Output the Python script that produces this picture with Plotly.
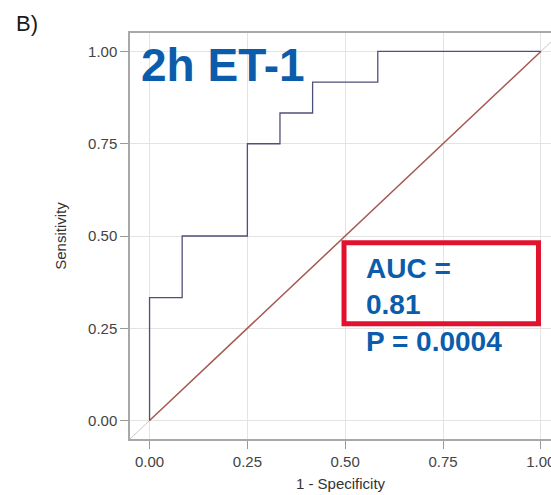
import plotly.graph_objects as go

# ROC step curve (1 - specificity, sensitivity)
fpr = [0.0, 0.0, 0.0833, 0.0833, 0.25, 0.25, 0.3333, 0.3333, 0.4167, 0.4167, 0.5833, 0.5833, 1.0]
tpr = [0.0, 0.3333, 0.3333, 0.5, 0.5, 0.75, 0.75, 0.8333, 0.8333, 0.9167, 0.9167, 1.0, 1.0]
ref_x = [0.0, 1.0]
ref_y = [0.0, 1.0]
full_diag = [-0.05, 1.05]
tick_vals = [0.0, 0.25, 0.5, 0.75, 1.0]
tick_text = ["0.00", "0.25", "0.50", "0.75", "1.00"]
title_text = "2h ET-1"
auc_text = "AUC =<br>0.81<br>P = 0.0004"
panel_label = "B)"

fig = go.Figure()
fig.add_trace(go.Scatter(x=full_diag, y=full_diag, mode="lines",
                         line=dict(color="#c8c8c8", width=1), hoverinfo="skip"))
fig.add_trace(go.Scatter(x=ref_x, y=ref_y, mode="lines",
                         line=dict(color="#a65a52", width=1.5), hoverinfo="skip"))
fig.add_trace(go.Scatter(x=fpr, y=tpr, mode="lines",
                         line=dict(color="#4f5078", width=1.3), hoverinfo="skip"))

font_family = "Liberation Sans, Arial, sans-serif"
axis_common = dict(
    tickvals=tick_vals, ticktext=tick_text, ticks="outside", ticklen=8,
    tickcolor="#9a9a9a", tickwidth=1.2, showline=True, linecolor="#a8a8a8",
    linewidth=1.5, showgrid=True, gridcolor="#e3e3e3", gridwidth=1,
    zeroline=False, tickfont=dict(family=font_family, size=15, color="#444444"),
    ticklabeloverflow="allow", automargin=False,
)
fig.update_layout(
    width=551, height=495,
    margin=dict(l=130, r=0, t=33, b=56),
    paper_bgcolor="white", plot_bgcolor="white",
    showlegend=False,
    xaxis=dict(range=[-0.05, 1.026], mirror=True,
               title=dict(text="1 - Specificity", standoff=10,
                          font=dict(family=font_family, size=15, color="#333333")),
               **axis_common),
    yaxis=dict(range=[-0.05, 1.05], mirror=False,
               title=dict(text="Sensitivity", standoff=18,
                          font=dict(family=font_family, size=15, color="#333333")),
               **axis_common),
)

fig.add_shape(type="rect", xref="x", yref="y", x0=0.497, x1=0.994, y0=0.262, y1=0.482,
              line=dict(color="#e2122f", width=5), fillcolor="rgba(0,0,0,0)")

fig.add_annotation(x=-0.028, y=1.04, xref="x", yref="y", xanchor="left", yanchor="top",
                   text="<b>" + title_text + "</b>", showarrow=False,
                   font=dict(family=font_family, size=46, color="#0b5cab"))
fig.add_annotation(x=0.548, y=0.46, xref="x", yref="y", xanchor="left", yanchor="top",
                   text="<b>" + auc_text.replace("<br>", "</b><br><b>") + "</b>",
                   showarrow=False, align="left",
                   font=dict(family=font_family, size=28, color="#0b5cab"))
fig.add_annotation(x=-0.275, y=1.06, xref="paper", yref="paper", text=panel_label,
                   showarrow=False, xanchor="left", yanchor="top",
                   font=dict(family=font_family, size=22, color="#1a1a1a"))

fig.write_html("out.html", config={"displayModeBar": False},
               post_script="document.body.style.margin='0';document.body.style.overflow='hidden';")
